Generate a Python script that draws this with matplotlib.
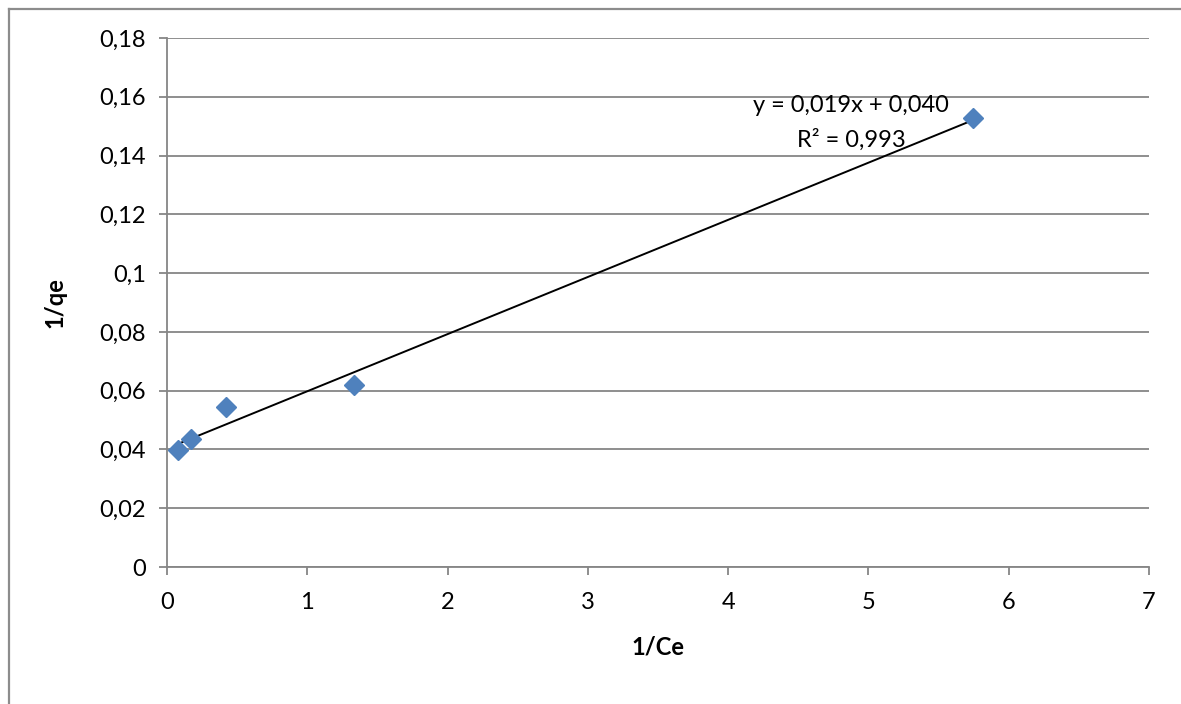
import matplotlib
matplotlib.use("Agg")
import matplotlib.pyplot as plt
import numpy as np
from matplotlib.lines import Line2D

plt.rcParams['font.family'] = ['Lato', 'DejaVu Sans']

x_vals = [0.076, 0.169, 0.42, 1.33, 5.747]
y_vals = [0.0398, 0.0436, 0.0543, 0.0619, 0.1527]
x_ticks = [0, 1, 2, 3, 4, 5, 6, 7]
y_ticks = [0, 0.02, 0.04, 0.06, 0.08, 0.1, 0.12, 0.14, 0.16, 0.18]
y_tick_labels = ['0', '0,02', '0,04', '0,06', '0,08', '0,1', '0,12', '0,14', '0,16', '0,18']
eq_text = "y = 0,019x + 0,040"
r2_text = "R² = 0,993"

W, H = 1181, 704
fig = plt.figure(figsize=(W/100, H/100), dpi=100)
ax = fig.add_axes([167/W, 1-567/H, (1149-167)/W, (567-38)/H])

fs = 17
grid_c = '#868686'
ax.set_xlim(0, 7)
ax.set_ylim(0, 0.18)
ax.set_xticks(x_ticks)
ax.set_xticklabels([str(t) for t in x_ticks])
ax.set_yticks(y_ticks)
ax.set_yticklabels(y_tick_labels)
ax.yaxis.grid(True, color=grid_c, linewidth=1.3)
ax.xaxis.grid(False)
ax.set_axisbelow(True)
for s in ['top', 'right']:
    ax.spines[s].set_visible(False)
for s in ['left', 'bottom']:
    ax.spines[s].set_color(grid_c)
    ax.spines[s].set_linewidth(1.3)
ax.tick_params(axis='both', direction='out', length=6, width=1.3, color=grid_c,
               labelsize=fs, labelcolor='black')
ax.tick_params(axis='y', pad=9)
ax.tick_params(axis='x', pad=12)

# trendline
coef = np.polyfit(x_vals, y_vals, 1)
xl = np.array([min(x_vals), max(x_vals)])
ax.plot(xl, np.polyval(coef, xl), color='black', linewidth=1.4, zorder=3)

ax.plot(x_vals, y_vals, linestyle='none', marker='D', markersize=10,
        color='#4F81BD', markeredgecolor='#4F81BD', zorder=4)

ax.text(4.875, 0.1569, eq_text, ha='center', va='center', fontsize=fs)
ax.text(4.875, 0.1453, r2_text, ha='center', va='center', fontsize=fs)

ax.set_xlabel('1/Ce', fontsize=fs, fontweight='bold', labelpad=16)
ax.set_ylabel('1/qe', fontsize=fs, fontweight='bold', labelpad=24)

# chart frame (left and top visible)
fig.add_artist(Line2D([8.5/W, 8.5/W], [0, 1-8.5/H], color='#8c8c8c', linewidth=1.6,
                      transform=fig.transFigure))
fig.add_artist(Line2D([8.5/W, 1], [1-8.5/H, 1-8.5/H], color='#8c8c8c', linewidth=1.6,
                      transform=fig.transFigure))

fig.savefig('out.png', dpi=100, facecolor='white')
